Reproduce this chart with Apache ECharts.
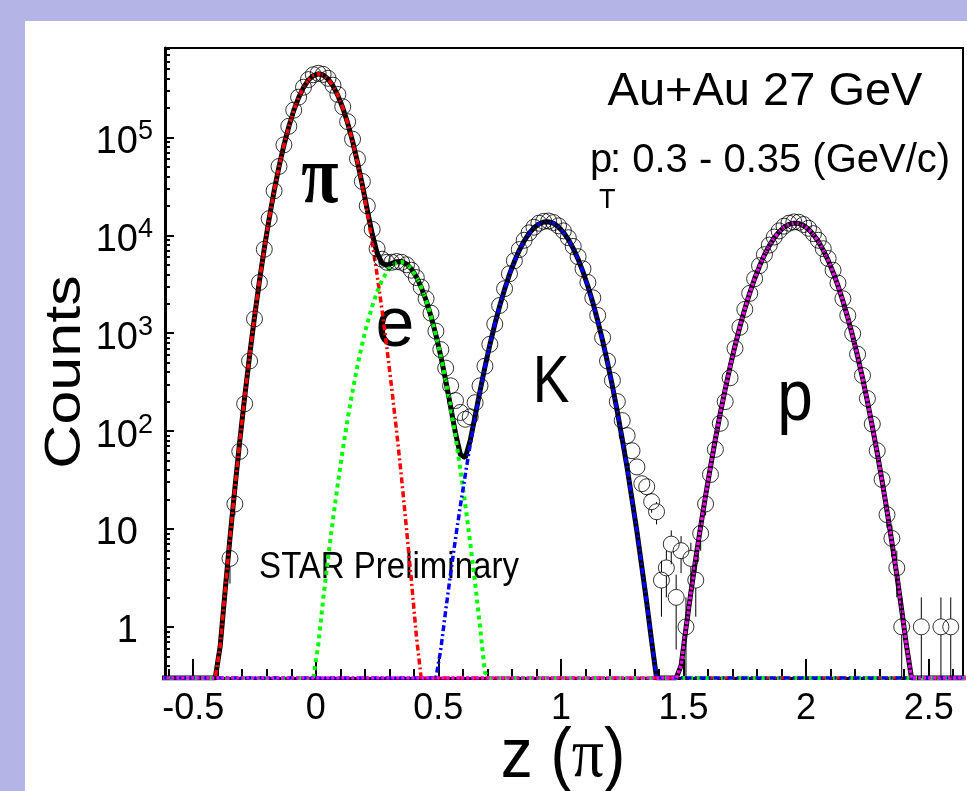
<!DOCTYPE html>
<html>
<head>
<meta charset="utf-8">
<title>z(pi) Au+Au 27 GeV</title>
<script src="https://cdn.jsdelivr.net/npm/echarts@6.0.0/dist/echarts.min.js"></script>
<style>
  html, body { margin: 0; padding: 0; background: #b4b4e6; overflow: hidden; }
  #panel { position: absolute; left: 25px; top: 21px; right: 0; bottom: 0; background: #fff; }
  #chart { position: absolute; left: 0; top: 0; width: 967px; height: 791px; }
</style>
</head>
<body>
<div id="panel"></div>
<div id="chart"></div>
<script>
// bin centres of the z histogram
const zBins = [
  -0.63, -0.61, -0.59, -0.57, -0.55, -0.53, -0.51, -0.49, -0.47, -0.45,
  -0.43, -0.41, -0.39, -0.37, -0.35, -0.33, -0.31, -0.29, -0.27, -0.25,
  -0.23, -0.21, -0.19, -0.17, -0.15, -0.13, -0.11, -0.09, -0.07, -0.05,
  -0.03, -0.01, 0.01, 0.03, 0.05, 0.07, 0.09, 0.11, 0.13, 0.15,
  0.17, 0.19, 0.21, 0.23, 0.25, 0.27, 0.29, 0.31, 0.33, 0.35,
  0.37, 0.39, 0.41, 0.43, 0.45, 0.47, 0.49, 0.51, 0.53, 0.55,
  0.57, 0.59, 0.61, 0.63, 0.65, 0.67, 0.69, 0.71, 0.73, 0.75,
  0.77, 0.79, 0.81, 0.83, 0.85, 0.87, 0.89, 0.91, 0.93, 0.95,
  0.97, 0.99, 1.01, 1.03, 1.05, 1.07, 1.09, 1.11, 1.13, 1.15,
  1.17, 1.19, 1.21, 1.23, 1.25, 1.27, 1.29, 1.31, 1.33, 1.35,
  1.37, 1.39, 1.41, 1.43, 1.45, 1.47, 1.49, 1.51, 1.53, 1.55,
  1.57, 1.59, 1.61, 1.63, 1.65, 1.67, 1.69, 1.71, 1.73, 1.75,
  1.77, 1.79, 1.81, 1.83, 1.85, 1.87, 1.89, 1.91, 1.93, 1.95,
  1.97, 1.99, 2.01, 2.03, 2.05, 2.07, 2.09, 2.11, 2.13, 2.15,
  2.17, 2.19, 2.21, 2.23, 2.25, 2.27, 2.29, 2.31, 2.33, 2.35,
  2.37, 2.39, 2.41, 2.43, 2.45, 2.47, 2.49, 2.51, 2.53, 2.55,
  2.57, 2.59, 2.61, 2.63, 2.65
];
const binWidth = 0.02;

// fit components (counts), each starting at the given bin centre
const pionStart = -0.43;
const pionFit = [
  0.04, 0.16, 0.63, 2.3, 8.1, 26, 79, 223, 590, 1460,
  3390, 7350, 14900, 28300, 50100, 83200, 129000, 188000, 255000, 324000,
  386000, 429000, 447000, 435000, 396000, 337000, 269000, 201000, 140000, 91400,
  55700, 31900, 17000, 8510, 3980, 1740, 711, 272, 98, 33,
  10, 3.0, 0.82, 0.21, 0.05
];
const elecStart = -0.03;
const elecFit = [
  0.07, 0.21, 0.65, 1.9, 5.0, 12.4, 29, 64, 133, 256,
  465, 790, 1260, 1880, 2630, 3450, 4250, 4890, 5280, 5360,
  5080, 4530, 3780, 2950, 2170, 1490, 960, 580, 328, 174,
  87, 40, 17.6, 7.2, 2.8, 1.0, 0.34, 0.11, 0.03
];
const kaonStart = 0.45;
const kaonFit = [
  0.03, 0.085, 0.23, 0.59, 1.47, 3.5, 8.0, 17.4, 36, 73,
  140, 256, 451, 760, 1225, 1890, 2800, 3980, 5400, 7020,
  8750, 10440, 11940, 13060, 13700, 13750, 13240, 12190, 10760, 9100,
  7360, 5710, 4240, 3020, 2060, 1340, 839, 502, 288, 158,
  83, 42, 20, 9.4, 4.1, 1.76, 0.71, 0.28, 0.10, 0.037
];
const protonStart = 1.43;
const protonFit = [
  0.023, 0.062, 0.16, 0.40, 0.97, 2.24, 5.0, 10.6, 21.9, 43,
  83, 152, 267, 454, 741, 1170, 1770, 2570, 3600, 4850,
  6290, 7850, 9420, 10880, 12100, 12940, 13320, 13190, 12570, 11530,
  10170, 8640, 7060, 5550, 4200, 3060, 2140, 1440, 935, 583,
  350, 202, 112, 60, 31, 15.3, 7.3, 3.4, 1.48, 0.63,
  0.26, 0.10, 0.038
];

// measured counts, 0 = empty bin
const dataStart = -0.35;
const dataCounts = [
  5, 18, 62, 190, 520, 1400, 3300, 7200, 14800, 28500,
  50500, 84000, 130000, 190000, 258000, 326000, 390000, 437000, 452000, 441000,
  402000, 342000, 275000, 206000, 145000, 96000, 60500, 35500, 20000, 11500,
  7300, 5700, 5300, 5300, 5400, 5300, 5000, 4400, 3700, 2950,
  2250, 1600, 1050, 680, 440, 290, 205, 155, 132, 140,
  195, 290, 460, 770, 1240, 1920, 2850, 4050, 5500, 7150,
  8900, 10600, 12100, 13300, 13900, 14000, 13500, 12500, 11100, 9450,
  7700, 6050, 4550, 3300, 2300, 1520, 900, 520, 330, 200,
  128, 90, 63, 43, 29, 27, 19, 15, 3, 4,
  7, 2, 6, 1, 5, 3, 9, 18, 36, 65,
  120, 200, 350, 700, 1150, 1750, 2550, 3600, 4900, 6350,
  7950, 9600, 11100, 12400, 13300, 13700, 13600, 12900, 11800, 10400,
  8900, 7300, 5800, 4400, 3250, 2250, 1520, 990, 610, 370,
  215, 118, 63, 32, 14, 8, 4, 1, 0, 0,
  0, 1, 0, 0, 0, 1, 0, 1
];

const xTickLabels = [-0.5, 0, 0.5, 1, 1.5, 2, 2.5];
const yDecades = [0, 1, 2, 3, 4, 5];

const xMin = -0.615, xMax = 2.64;
const yMin = Math.log10(0.3), yMax = Math.log10(8.2e5);

// minor tick positions
const xMinorTicks = [];
for (let k = -6; k <= 26; k++) xMinorTicks.push(k / 10);
const yMinorTicks = [];
for (let d = -1; d <= 5; d++) {
  for (let m = 2; m <= 9; m++) {
    const v = Math.log10(m) + d;
    if (v > yMin && v < yMax) yMinorTicks.push(v);
  }
}

const toLog = v => (v > 0 ? Math.max(Math.log10(v), yMin) : yMin);

const place = (start, values) => {
  const out = zBins.map(() => 0);
  const i0 = Math.round((start - zBins[0]) / binWidth);
  values.forEach((v, k) => { out[i0 + k] = v; });
  return out;
};

const pion = place(pionStart, pionFit);
const elec = place(elecStart, elecFit);
const kaon = place(kaonStart, kaonFit);
const proton = place(protonStart, protonFit);
const total = zBins.map((z, i) => pion[i] + elec[i] + kaon[i] + proton[i]);
const counts = place(dataStart, dataCounts);

const curve = arr => zBins.map((z, i) => [z, toLog(arr[i])]);
const points = [];
zBins.forEach((z, i) => {
  if (counts[i] > 0) points.push([z, Math.log10(counts[i]), counts[i]]);
});

const font = 'Liberation Sans';
const markerR = 8;
const tickStyle = { color: '#000', width: 2 };

const chart = echarts.init(document.getElementById('chart'));

const fitLine = (name, arr, color, width, type) => ({
  name: name,
  type: 'line',
  data: curve(arr),
  symbol: 'none',
  smooth: false,
  lineStyle: { color: color, width: width, type: type },
  z: 3
});

const label = (text, x, y, size, extra) => Object.assign({
  type: 'text', x: x, y: y,
  style: { text: text, fontFamily: font, fontSize: size, fill: '#000', align: 'center', verticalAlign: 'middle' }
}, extra || {});

chart.setOption({
  animation: false,
  grid: {
    left: 165, top: 48, width: 798, height: 630,
    show: true, borderColor: '#000', borderWidth: 2
  },
  xAxis: [
    {
      type: 'value', min: xMin, max: xMax, position: 'bottom',
      axisLine: { show: true, onZero: false, lineStyle: { color: '#000', width: 3 } },
      axisTick: { show: true, inside: true, length: 19, customValues: xTickLabels, lineStyle: tickStyle },
      axisLabel: { customValues: xTickLabels, margin: 13, color: '#000', fontFamily: font, fontSize: 36 },
      splitLine: { show: false }
    },
    {
      type: 'value', min: xMin, max: xMax, position: 'bottom',
      axisLine: { show: false, onZero: false },
      axisTick: { show: true, inside: true, length: 9, customValues: xMinorTicks, lineStyle: tickStyle },
      axisLabel: { show: false },
      splitLine: { show: false }
    }
  ],
  yAxis: [
    {
      type: 'value', min: yMin, max: yMax, position: 'left',
      axisLine: { show: true, onZero: false, lineStyle: { color: '#000', width: 3 } },
      axisTick: { show: true, inside: true, length: 9, customValues: yDecades, lineStyle: tickStyle },
      axisLabel: {
        customValues: yDecades,
        margin: 12,
        color: '#000',
        formatter: v => {
          if (v === 0) return '{p|1}';
          if (v === 1) return '{p|10}';
          return '{b|10}{s|' + v + '}';
        },
        rich: {
          p: { fontFamily: font, fontSize: 38, lineHeight: 38, padding: [10, 15, 0, 0], color: '#000' },
          b: { fontFamily: font, fontSize: 38, lineHeight: 38, padding: [10, 0, 0, 0], color: '#000' },
          s: { fontFamily: font, fontSize: 27, lineHeight: 27, verticalAlign: 'top', color: '#000' }
        }
      },
      splitLine: { show: false }
    },
    {
      type: 'value', min: yMin, max: yMax, position: 'left',
      axisLine: { show: false, onZero: false },
      axisTick: { show: true, inside: true, length: 5, customValues: yMinorTicks, lineStyle: tickStyle },
      axisLabel: { show: false },
      splitLine: { show: false }
    }
  ],
  series: [
    {
      name: 'total',
      type: 'line',
      data: curve(total),
      symbol: 'none',
      lineStyle: { color: '#000', width: 5 },
      z: 2
    },
    fitLine('pi', pion, '#ff0000', 3.5, [6, 3, 2, 3]),
    fitLine('e', elec, '#00ff00', 4, [4, 4]),
    fitLine('K', kaon, '#0000ff', 3.5, [6, 3, 2, 3]),
    fitLine('p', proton, '#ff00ff', 3.5, [3, 2]),
    {
      name: 'errors',
      type: 'custom',
      data: points,
      clip: true,
      z: 4,
      renderItem: (params, api) => {
        const z = api.value(0);
        const n = api.value(2);
        const e = Math.sqrt(n);
        const c = api.coord([z, Math.log10(n)]);
        const top = api.coord([z, toLog(n + e)]);
        const bot = api.coord([z, toLog(n - e)]);
        const children = [];
        if (top[1] < c[1] - markerR) {
          children.push({ type: 'line', shape: { x1: c[0], y1: top[1], x2: c[0], y2: c[1] - markerR }, style: { stroke: '#000', lineWidth: 1 } });
        }
        if (bot[1] > c[1] + markerR) {
          children.push({ type: 'line', shape: { x1: c[0], y1: c[1] + markerR, x2: c[0], y2: bot[1] }, style: { stroke: '#000', lineWidth: 1 } });
        }
        return { type: 'group', children: children };
      }
    },
    {
      name: 'data',
      type: 'scatter',
      data: points,
      symbol: 'circle',
      symbolSize: 2 * markerR,
      itemStyle: { color: 'transparent', borderColor: '#000', borderWidth: 1 },
      z: 5
    }
  ],
  graphic: [
    label('Au+Au 27 GeV', 765, 92, 47),
    label('p', 590, 161, 40, { style: { text: 'p', fontFamily: font, fontSize: 40, fill: '#000', align: 'left', verticalAlign: 'middle' } }),
    label('T', 599, 201, 27, { style: { text: 'T', fontFamily: font, fontSize: 27, fill: '#000', align: 'left', verticalAlign: 'middle' } }),
    label(': 0.3 - 0.35 (GeV/c)', 610, 161, 40, { style: { text: ': 0.3 - 0.35 (GeV/c)', fontFamily: font, fontSize: 40, fill: '#000', align: 'left', verticalAlign: 'middle' } }),
    label('π', 320, 181, 68, { scaleY: 1.22, style: { text: 'π', fontFamily: 'Liberation Serif', fontSize: 68, fontWeight: 'bold', fill: '#000', align: 'center', verticalAlign: 'middle' } }),
    label('e', 395, 327, 70),
    label('K', 551, 384, 55, { scaleY: 1.2 }),
    label('p', 795, 400, 64, { scaleY: 1.13 }),
    label('STAR Preliminary', 389, 568, 33, { scaleY: 1.12 }),
    label('Counts', 66, 372, 50, { rotation: Math.PI / 2, scaleX: 1.22 }),
    {
      type: 'text', x: 563, y: 758, scaleY: 1.1,
      style: {
        text: '{s|z (}{g|π}{s|)}', fill: '#000', align: 'center', verticalAlign: 'middle',
        rich: {
          s: { fontFamily: font, fontSize: 64, fill: '#000' },
          g: { fontFamily: 'Liberation Serif', fontSize: 64, fill: '#000' }
        }
      }
    }
  ]
});
</script>
</body>
</html>
